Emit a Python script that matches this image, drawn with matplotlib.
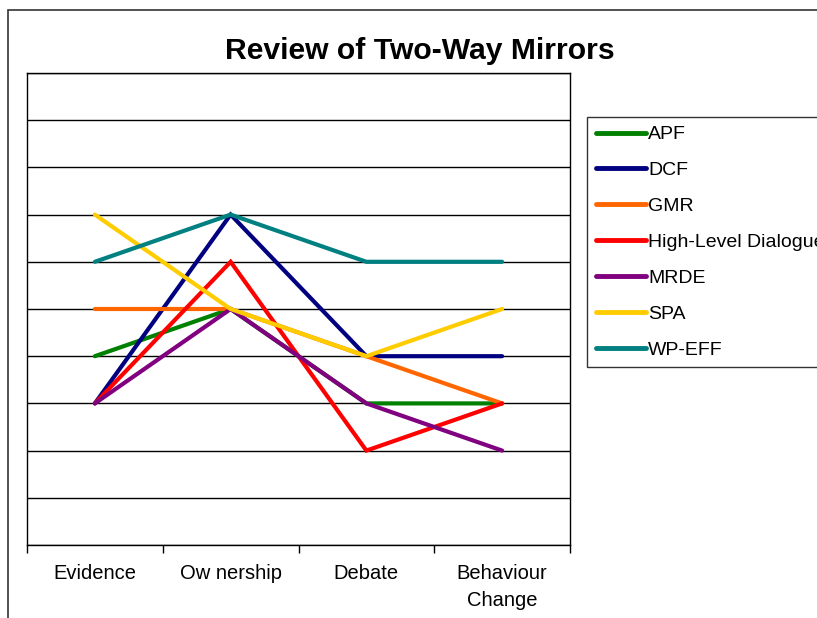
import matplotlib
matplotlib.use("Agg")
import matplotlib.pyplot as plt
from matplotlib.patches import Rectangle

plt.rcParams['font.family'] = ['Liberation Sans', 'DejaVu Sans']

categories = ["Evidence", "Ownership", "Debate", "Behaviour\nChange"]
tick_labels = ["Evidence", "Ow nership", "Debate", "Behaviour\nChange"]

series = ["APF", "DCF", "GMR", "High-Level Dialogue", "MRDE", "SPA", "WP-EFF"]
apf = [4, 5, 3, 3]
dcf = [3, 7, 4, 4]
gmr = [5, 5, 4, 3]
hld = [3, 6, 2, 3]
mrde = [3, 5, 3, 2]
spa = [7, 5, 4, 5]
wpeff = [6, 7, 6, 6]
values = [apf, dcf, gmr, hld, mrde, spa, wpeff]
colors = ["#008000", "#000080", "#FF6600", "#FF0000", "#800080", "#FFCC00", "#008080"]

fig = plt.figure(figsize=(8.17, 6.18), dpi=100)
ax = fig.add_axes([27 / 817, 1 - 545 / 618, (570 - 27) / 817, (545 - 73) / 618])

x = list(range(len(categories)))
for name, vals, c in zip(series, values, colors):
    ax.plot(x, vals, color=c, lw=3, label=name, solid_capstyle='round',
            solid_joinstyle='miter')

ax.set_xlim(-0.5, 3.5)
ax.set_ylim(0, 10)
ax.set_yticks(range(0, 11))
ax.yaxis.grid(True, color='black', lw=1)
ax.set_axisbelow(True)
ax.tick_params(axis='y', length=0, labelleft=False)

ax.set_xticks([-0.5, 0.5, 1.5, 2.5, 3.5])
ax.set_xticklabels([])
ax.tick_params(axis='x', which='major', length=6, direction='out', width=1)
ax.set_xticks(x, minor=True)
ax.set_xticklabels(tick_labels, minor=True, fontsize=14.5, linespacing=1.5)
ax.tick_params(axis='x', which='minor', length=0, pad=14)

for s in ax.spines.values():
    s.set_color('black')
    s.set_linewidth(1)

fig.text(420 / 817, 1 - 51 / 618, "Review of Two-Way Mirrors", ha='center', va='center',
         fontsize=21.7, fontweight='bold')

leg = fig.legend(loc='upper left', bbox_to_anchor=(587 / 817, 1 - 117 / 618),
                 fontsize=14, frameon=True, fancybox=False, edgecolor='black',
                 handlelength=2.6, handletextpad=0.1, labelspacing=0.94,
                 borderpad=0.45, borderaxespad=0)
leg.get_frame().set_linewidth(1)
for h in leg.get_lines():
    h.set_linewidth(3.5)

fig.patches.append(Rectangle((8 / 817, -0.1), 1.1, 1.1 - 10 / 618,
                             transform=fig.transFigure, fill=False,
                             edgecolor='#333333', lw=1.2))

fig.savefig("out.png", dpi=100)
